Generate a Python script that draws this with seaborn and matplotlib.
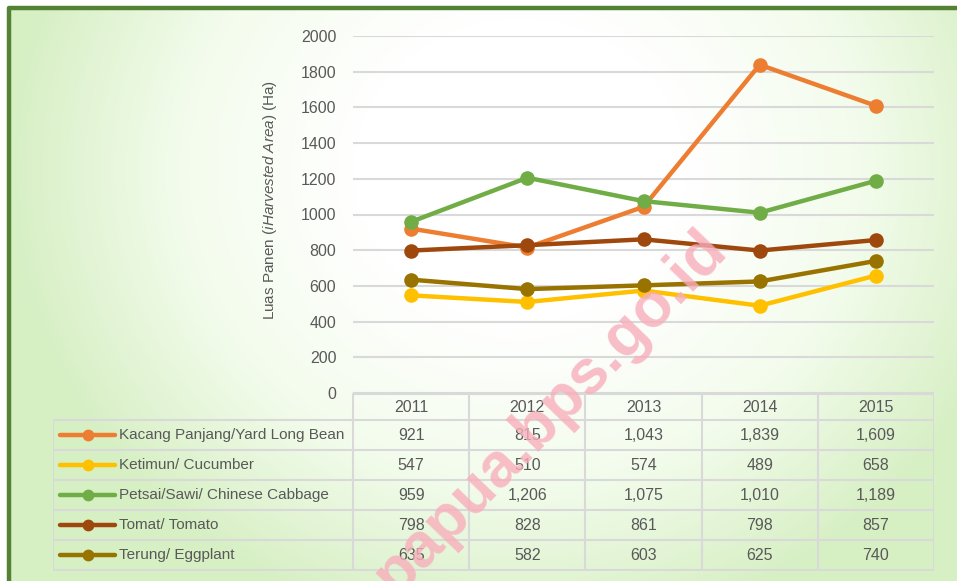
import numpy as np
import pandas as pd
import seaborn as sns
import matplotlib.pyplot as plt
from matplotlib.colors import LinearSegmentedColormap
from matplotlib.lines import Line2D

years = ["2011", "2012", "2013", "2014", "2015"]
series = [
    "Kacang Panjang/Yard Long Bean",
    "Ketimun/ Cucumber",
    "Petsai/Sawi/ Chinese Cabbage",
    "Tomat/ Tomato",
    "Terung/ Eggplant",
]
kacang = [921, 815, 1043, 1839, 1609]
ketimun = [547, 510, 574, 489, 658]
petsai = [959, 1206, 1075, 1010, 1189]
tomat = [798, 828, 861, 798, 857]
terung = [635, 582, 603, 625, 740]
values = [kacang, ketimun, petsai, tomat, terung]
colors = ["#ED7D31", "#FFC000", "#70AD47", "#9E480E", "#997300"]
yticks = [0, 200, 400, 600, 800, 1000, 1200, 1400, 1600, 1800, 2000]

sns.set_style("white")
plt.rcParams["font.family"] = ["Liberation Sans", "DejaVu Sans"]
plt.rcParams["mathtext.fontset"] = "custom"
plt.rcParams["mathtext.it"] = "Liberation Sans:italic"
plt.rcParams["mathtext.rm"] = "Liberation Sans"
txt = "#595959"
fs = 11.5

W, H = 957, 581
fig = plt.figure(figsize=(W / 100, H / 100), dpi=100)

# background gradient + green frame
bg = fig.add_axes([0, 0, 1, 1], zorder=-10)
gx, gy = np.meshgrid(np.arange(W), np.arange(H))
d = np.sqrt(((gx - 520) / 470.0) ** 2 + ((gy - 170) / 430.0) ** 2)
d = np.clip((d - 0.35) / 0.75, 0, 1)
cmap = LinearSegmentedColormap.from_list("g", ["#ffffff", "#f3fcec", "#d6efc3"])
bg.imshow(d, cmap=cmap, extent=(0, W, H, 0), aspect="auto", vmin=0, vmax=1)
bg.fill_between([0, W], 0, 7, color="white")
bg.fill_between([0, 7], 0, H, color="white")
bg.plot([8.5, 8.5, W], [H, 7.5, 7.5], color="#548235", lw=3.2, solid_capstyle="butt")
bg.set_xlim(0, W)
bg.set_ylim(H, 0)
bg.axis("off")

# line chart
ax = fig.add_axes([353 / W, 1 - 393 / H, (934 - 353) / W, (393 - 36) / H])
ax.set_facecolor("none")
for name, vals, c in zip(series, values, colors):
    df = pd.DataFrame({"x": range(len(years)), "y": vals})
    sns.lineplot(data=df, x="x", y="y", ax=ax, color=c, lw=3.2, marker="o",
                 markersize=10.5, markeredgewidth=0, label=None)
ax.set_xlim(-0.5, len(years) - 0.5)
ax.set_ylim(0, 2000)
ax.set_yticks(yticks)
ax.set_yticklabels([str(v) for v in yticks], fontsize=fs, color=txt)
ax.set_xticks([])
ax.tick_params(axis="y", length=0, pad=12)
ax.grid(axis="y", color="#d9d9d9", lw=1.5)
for s in ax.spines.values():
    s.set_visible(False)
ax.set_xlabel("")
ax.set_ylabel(r"Luas Panen ($\mathit{iHarvested\ Area}$) (Ha)", fontsize=11, color=txt)
ax.yaxis.set_label_coords(-74 / (934 - 353), 0.54)

# data table
tax = fig.add_axes([53 / W, 1 - 571 / H, (934 - 53) / W, (571 - 393) / H])
tax.set_xlim(53, 934)
tax.set_ylim(571, 393)
tax.axis("off")
tax.patch.set_alpha(0)
gc = "#d9d9d9"
col0 = 353
cw = (934 - 353) / len(years)
row_y = [420 + 30 * i for i in range(len(series) + 1)]
tax.plot([col0, 934], [393.5, 393.5], color=gc, lw=1.5)
for yy in row_y:
    tax.plot([53, 934], [yy, yy], color=gc, lw=1.5)
tax.plot([53, 53], [420, row_y[-1]], color=gc, lw=1.5)
for k in range(len(years) + 1):
    tax.plot([col0 + k * cw] * 2, [393.5, row_y[-1]], color=gc, lw=1.5)
for k, yr in enumerate(years):
    tax.text(col0 + (k + 0.5) * cw, 407, yr, ha="center", va="center", fontsize=fs, color=txt)
for i, (name, vals, c) in enumerate(zip(series, values, colors)):
    yc = row_y[i] + 15
    tax.add_line(Line2D([60, 115], [yc, yc], color=c, lw=3.2, solid_capstyle="round"))
    tax.add_line(Line2D([88], [yc], color=c, marker="o", markersize=8.5, markeredgewidth=0))
    tax.text(119, yc, name, ha="left", va="center", fontsize=11, color=txt)
    for k, v in enumerate(vals):
        tax.text(col0 + (k + 0.5) * cw, yc, f"{v:,}", ha="center", va="center",
                 fontsize=fs, color=txt)

# watermark
fig.text(550 / W, 1 - 412 / H, "papua.bps.go.id", rotation=46, ha="center", va="center",
         fontsize=45, fontweight="bold", color="#f8aebb", alpha=0.8, zorder=20)

fig.savefig("out.png", dpi=100)
